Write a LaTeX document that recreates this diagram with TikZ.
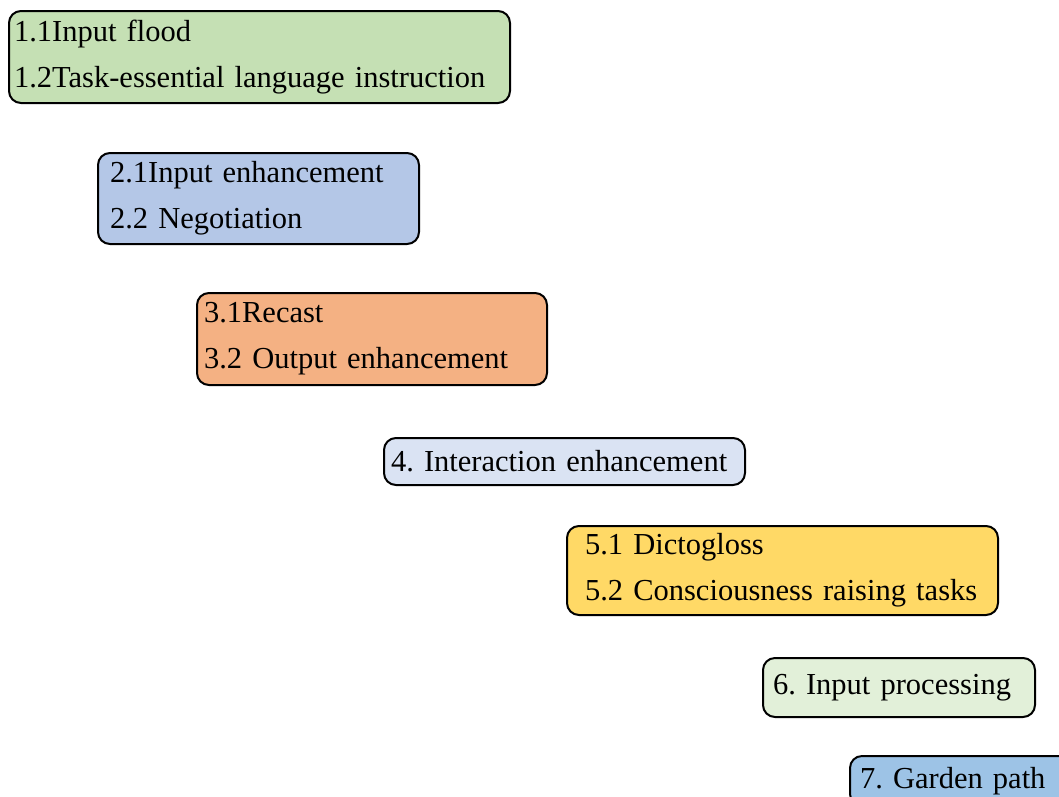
\documentclass[tikz,border=0pt]{standalone}
\usepackage{fontspec}
\setmainfont{Liberation Serif}
\frenchspacing
\usetikzlibrary{positioning}
\definecolor{greenA}{HTML}{C5E0B4}
\definecolor{blueA}{HTML}{B4C7E7}
\definecolor{orangeA}{HTML}{F4B183}
\definecolor{blueB}{HTML}{DAE3F3}
\definecolor{yellowA}{HTML}{FFD966}
\definecolor{greenB}{HTML}{E2F0D9}
\definecolor{blueC}{HTML}{9DC3E6}
\tikzset{stage/.style = {draw, line width=2pt, rounded corners=12pt, anchor=north west, align=left,
    inner ysep=0pt, font=\fontsize{30.5}{46}\selectfont}}

\begin{document}
\begin{tikzpicture}[x=1pt, y=-1pt]
    \clip (0,0) rectangle (1059,796);
    \node[stage, fill=greenA, inner xsep=5pt, text width=491pt, minimum height=92pt] (s1) at (8,10)
        {1.1Input flood\\1.2Task-essential language instruction};
    \node[stage, fill=blueA, inner xsep=12pt, text width=297pt, minimum height=91pt] (s2) at (97,152)
        {2.1Input enhancement\\2.2 Negotiation};
    \node[stage, fill=orangeA, inner xsep=7pt, text width=336pt, minimum height=92pt] (s3) at (196,292)
        {3.1Recast\\3.2 Output enhancement};
    \node[stage, fill=blueB, inner xsep=7pt, text width=347pt, minimum height=47pt] (s4) at (383,437)
        {4. Interaction enhancement};
    \node[stage, fill=yellowA, inner xsep=18pt, text width=395pt, minimum height=89pt] (s5) at (566,525)
        {5.1 Dictogloss\\5.2 Consciousness raising tasks};
    \node[stage, fill=greenB, inner xsep=10pt, text width=252pt, minimum height=59pt] (s6) at (762,657)
        {6. Input processing};
    \node[stage, fill=blueC, inner xsep=10pt, text width=200pt, minimum height=50pt] (s7) at (849,755)
        {7. Garden path};
\end{tikzpicture}
\end{document}
